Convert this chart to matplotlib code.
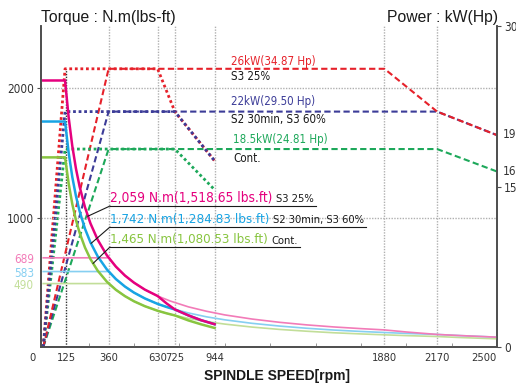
import matplotlib
matplotlib.use('Agg')
import matplotlib.pyplot as plt
from matplotlib import font_manager
from matplotlib.font_manager import FontProperties

# Torque (N.m) vs spindle speed, low gear (thick, ends at 944 rpm)
rpm_lo = [0, 120, 140, 160, 180, 200, 230, 260, 300, 350, 400, 450, 500, 560, 630, 680, 725, 800, 870, 944]
torque_s3_lo = [2059, 2059, 1773, 1552, 1379, 1241, 1079, 955, 828, 709, 621, 552, 497, 443, 394, 336, 290, 244, 207, 176]
torque_s2_lo = [1742, 1742, 1500, 1313, 1167, 1050, 913, 808, 700, 600, 525, 467, 420, 375, 333, 309, 290, 244, 207, 176]
torque_cont_lo = [1465, 1465, 1262, 1104, 981, 883, 768, 679, 589, 505, 442, 393, 353, 315, 280, 260, 244, 205, 175, 147]

# Torque, high gear (thin, to 2500 rpm)
rpm_hi = [0, 360, 400, 450, 500, 560, 630, 700, 800, 900, 1000, 1150, 1300, 1450, 1600, 1750, 1880, 2000, 2170, 2300, 2500]
torque_s3_hi = [689, 689, 621, 552, 497, 443, 394, 355, 310, 276, 248, 216, 191, 171, 155, 142, 132, 116, 97, 88, 76]
torque_s2_hi = [583, 583, 525, 467, 420, 375, 333, 300, 263, 233, 210, 183, 162, 145, 131, 120, 112, 105, 97, 88, 76]
torque_cont_hi = [490, 490, 442, 393, 353, 315, 280, 252, 221, 196, 177, 154, 136, 122, 110, 101, 94, 88, 81, 73, 63]

# Power (kW), low gear (dotted)
rpm_pw_lo_s3 = [0, 120, 630, 725, 944]
kw_lo_s3 = [0, 26, 26, 22, 17.4]
rpm_pw_lo = [0, 120, 725, 944]
kw_lo_s2 = [0, 22, 22, 17.4]
kw_lo_cont = [0, 18.5, 18.5, 14.7]

# Power (kW), high gear (dashed)
rpm_pw_hi_s3 = [0, 360, 1880, 2170, 2500]
kw_hi_s3 = [0, 26, 26, 22, 19.8]
rpm_pw_hi = [0, 360, 2170, 2500]
kw_hi_s2 = [0, 22, 22, 19.8]
kw_hi_cont = [0, 18.5, 18.5, 16.4]

speed_ticks = [125, 360, 630, 725, 944, 1880, 2170, 2500]
speed_grid = [360, 630, 725, 944, 1880, 2170]

PINK, PINK_L = '#e5007e', '#f27bb8'
BLUE, BLUE_L = '#18a4e4', '#86cff1'
GREEN, GREEN_L = '#88c540', '#c2de99'
RED, NAVY, DGREEN = '#e6212a', '#3c3c98', '#1da85a'
INK = '#1a1a1a'


def find_narrow():
    # look for any condensed / narrow sans face that is installed
    fl = [f for f in font_manager.fontManager.ttflist if f.style == 'normal'
          and f.weight in (400, 'normal', 'regular', 'book')]
    for f in fl:
        if f.name == 'Liberation Sans Narrow':
            return f.fname
    for f in fl:
        if f.stretch in ('condensed', 'semi-condensed') and 'Sans' in f.name and 'Mono' not in f.name:
            return f.fname
    for f in fl:
        if ('Condensed' in f.name or 'Narrow' in f.name) and 'Mono' not in f.name:
            return f.fname
    return None


names = {f.name for f in font_manager.fontManager.ttflist}
SANS = 'Liberation Sans' if 'Liberation Sans' in names else 'DejaVu Sans'
narrow_file = find_narrow()


def narrow(size):
    if narrow_file:
        return FontProperties(fname=narrow_file, size=size)
    return FontProperties(family=SANS, size=size)


def px(x, y):
    # pixel position in the 516x384 picture -> axes fraction
    return ((x - 41) / 456, (347 - y) / 321)


fig = plt.figure(figsize=(5.16, 3.84), dpi=100)
ax = fig.add_axes([41 / 516, 1 - 347 / 384, 456 / 516, 321 / 384])
ax2 = ax.twinx()
ax.set_zorder(ax2.get_zorder() + 1)
ax.patch.set_visible(False)
ax2.set_facecolor('#ececec')

ax.set_xlim(-12.5, 2500)
ax.set_ylim(0, 2480)
ax2.set_ylim(0, 30)

# grid
for x in speed_grid:
    ax2.axvline(x, color='#b0b0b0', ls=(0, (1, 1)), lw=1, zorder=0)
ax2.vlines(125, 0, 26, color='#333333', ls=(0, (1, 1)), lw=1, zorder=0)
for y in [1000, 2000]:
    ax.axhline(y, color='#b0b0b0', ls=(0, (1, 1)), lw=1, zorder=0)

# power, high gear (dashed)
dash = (0, (3, 1.6))
ax2.plot(rpm_pw_hi, kw_hi_cont, color=DGREEN, ls=dash, lw=1.5)
ax2.plot(rpm_pw_hi, kw_hi_s2, color=NAVY, ls=dash, lw=1.5)
ax2.plot(rpm_pw_hi_s3, kw_hi_s3, color=RED, ls=dash, lw=1.5)

# power, low gear (dotted)
dot = (0, (1, 1))
ax2.plot(rpm_pw_lo, kw_lo_cont, color=DGREEN, ls=dot, lw=2)
ax2.plot(rpm_pw_lo_s3, kw_lo_s3, color=RED, ls=dot, lw=2)
ax2.plot(rpm_pw_lo, kw_lo_s2, color=NAVY, ls=dot, lw=2)

# torque, high gear then low gear on top
ax.plot(rpm_hi, torque_cont_hi, color=GREEN_L, lw=1.2)
ax.plot(rpm_hi, torque_s2_hi, color=BLUE_L, lw=1.2)
ax.plot(rpm_hi, torque_s3_hi, color=PINK_L, lw=1.2)
ax.plot(rpm_lo, torque_cont_lo, color=GREEN, lw=1.8)
ax.plot(rpm_lo, torque_s2_lo, color=BLUE, lw=1.8)
ax.plot(rpm_lo, torque_s3_lo, color=PINK, lw=1.8)

# spines and ticks
for a in (ax, ax2):
    a.spines['top'].set_visible(False)
    for s in ('left', 'bottom', 'right'):
        a.spines[s].set_color('#4d4d4d')
        a.spines[s].set_linewidth(1.2)

renderer = fig.canvas.get_renderer()


def fit(t, w, slack=1.0):
    # shrink a text that comes out wider than in the reference
    cur = t.get_window_extent(renderer).width
    if cur > w * slack:
        t.set_fontsize(t.get_fontsize() * w * slack / cur)


ax.set_xticks(speed_ticks)
ax.set_xticklabels([str(v) for v in speed_ticks])
ax.tick_params(axis='x', length=0, pad=4, labelcolor='#333333')
ax.set_xticks(range(250, 2500, 250), minor=True)
ax.tick_params(axis='x', which='minor', direction='in', length=3, color='#888888')
xlabs = ax.get_xticklabels()
for lab in xlabs:
    lab.set_fontproperties(narrow(9))
xlabs[-1].set_horizontalalignment('right')  # 2500 sits left of the corner
t0 = ax.text(*px(33, 358), '0', transform=ax.transAxes, ha='center', va='center',
             fontproperties=narrow(9), color='#333333')

ytick_vals = [490, 583, 689, 1000, 2000]
ytick_cols = [GREEN_L, BLUE_L, PINK_L, '#333333', '#333333']
ax.set_yticks(ytick_vals)
ax.set_yticklabels([str(v) for v in ytick_vals])
ax.tick_params(axis='y', length=3, pad=2, color='#4d4d4d')
for lab, c in zip(ax.get_yticklabels(), ytick_cols):
    lab.set_color(c)
    lab.set_fontproperties(narrow(8.5))
for t in ax.yaxis.get_major_ticks()[:3]:
    t.tick1line.set_visible(False)

ax2.set_yticks([0, 15, 30])
ax2.tick_params(axis='y', length=3, pad=2, labelcolor='#333333', color='#4d4d4d')
for lab in ax2.get_yticklabels():
    lab.set_fontproperties(narrow(8.5))
for v, y in [('19.8', 135), ('16.4', 171)]:
    ax.text(*px(503, y), v, transform=ax.transAxes, ha='left', va='center',
            fontproperties=narrow(8.5), color='#333333', clip_on=False)

# x labels sit close together (630 / 725), keep them to their reference width
fig.canvas.draw()
for lab in ax.get_xticklabels():
    fit(lab, 5.9 * len(lab.get_text()), 1.08)
fit(t0, 5.9, 1.08)

# titles
fig.text(41 / 516, 1 - 22 / 384, 'Torque : N.m(lbs-ft)', ha='left', va='baseline',
         fontsize=11.3, family=SANS, color=INK)
fig.text(498 / 516, 1 - 22 / 384, 'Power : kW(Hp)', ha='right', va='baseline',
         fontsize=11.3, family=SANS, color=INK)
fig.text(277 / 516, 1 - 376 / 384, 'SPINDLE SPEED[rpm]', ha='center', va='center',
         fontsize=10, weight='bold', family=SANS, color=INK)

# power rating labels (free space to the right, no need to shrink)
power_labels = [
    (231, 61, '26kW(34.87 Hp)', RED), (231, 77, 'S3 25%', INK),
    (231, 102, '22kW(29.50 Hp)', NAVY), (231, 120, 'S2 30min, S3 60%', INK),
    (233, 140, '18.5kW(24.81 Hp)', DGREEN), (233, 158, 'Cont.', INK),
]
for x, y, s, c in power_labels:
    ax.text(*px(x, y), s, transform=ax.transAxes, ha='left', va='center',
            fontproperties=narrow(8.3), color=c)

# torque rating labels with underline and leader
torque_labels = [
    ('2,059 N.m(1,518.65 lbs.ft)', PINK, 'S3 25%', 198, 206, 297, (245, 1010), 150),
    ('1,742 N.m(1,284.83 lbs.ft)', BLUE, 'S2 30min, S3 60%', 219, 227, 342, (263, 800), 148),
    ('1,465 N.m(1,080.53 lbs.ft)', GREEN, 'Cont.', 240, 247, 287, (274, 645), 146),
]
ax_x0 = ax.get_window_extent(renderer).x0
for big, c, small, ty, uy, ux, tip, wb in torque_labels:
    t = ax.text(*px(110, ty), big, transform=ax.transAxes, ha='left', va='center',
                fontproperties=narrow(11.4), color=c)
    fit(t, wb, 1.08)
    end = t.get_window_extent(renderer).x1 - ax_x0 + 41
    sx = max(264, end + 4)
    s = ax.text(*px(sx, ty + 1), small, transform=ax.transAxes, ha='left', va='center',
                fontproperties=narrow(8), color=INK)
    send = s.get_window_extent(renderer).x1 - ax_x0 + 41
    x0, y0 = px(110, uy)
    x1, _ = px(max(ux, send + 2), uy)
    ax.plot([x0, x1], [y0, y0], color=INK, lw=0.8, transform=ax.transAxes, clip_on=False)
    ax.annotate('', xy=tip, xycoords='data', xytext=(x0, y0), textcoords='axes fraction',
                arrowprops=dict(arrowstyle='-', color=INK, lw=0.8, shrinkA=0, shrinkB=0))

fig.savefig('out.png', dpi=100)
